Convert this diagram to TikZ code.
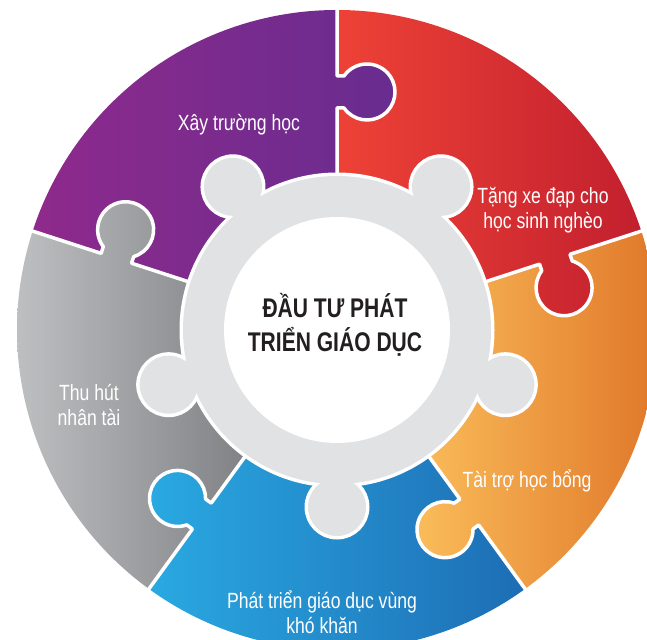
\documentclass[tikz,border=0pt]{standalone}
\usepackage{fontspec}
\setmainfont{Liberation Sans}
\newfontfamily\labfont[FakeStretch=0.8]{Liberation Sans}
\newfontfamily\ttlfont[FakeStretch=0.78]{Liberation Sans}
\definecolor{pL}{HTML}{8F2A8C}
\definecolor{pR}{HTML}{682C8F}
\definecolor{rL}{HTML}{EE4237}
\definecolor{rR}{HTML}{C01E2E}
\definecolor{oL}{HTML}{FABD5A}
\definecolor{oR}{HTML}{E0782A}
\definecolor{bL}{HTML}{2AAAE2}
\definecolor{bR}{HTML}{1D6DB4}
\definecolor{gL}{HTML}{BEBFC1}
\definecolor{gR}{HTML}{7F8083}
\definecolor{ringgray}{HTML}{E1E2E4}
\definecolor{ink}{HTML}{231F20}
\tikzset{
  labeltext/.style={text=white, font=\labfont\fontsize{22}{25}\selectfont, align=center, anchor=base, inner sep=0pt},
  titletext/.style={text=ink, font=\ttlfont\bfseries\fontsize{27}{34}\selectfont, align=center, anchor=base, inner sep=0pt},
  gapline/.style={white, line width=3.5pt, line join=round},
  knobedge/.style={white, line width=7pt},
}
\begin{document}
\begin{tikzpicture}[x=1pt,y=1pt]
\useasboundingbox (0,0) rectangle (647,639);
\begin{scope}[shift={(337,309)}]
  % puzzle pieces
  \foreach \a/\cl/\cr/\xl/\xr in {90/pL/pR/-310/60, 18/rL/rR/0/320, -54/oL/oR/78/320, 234/bL/bR/-195/190, 162/gL/gR/-320/-85}{
    \begin{scope}
      \clip (0,0) -- (\a:320) arc[start angle=\a, delta angle=72, radius=320] -- cycle;
      \shade[left color=\cl, right color=\cr] (\xl,-330) rectangle (\xr,330);
    \end{scope}
  }
  % tabs
  \foreach \a/\u/\cl/\cr/\xl/\xr in {90/238/pL/pR/-310/60, 18/229/rL/rR/0/320, -54/225/oL/oR/78/320, 234/230/bL/bR/-195/190, 162/232/gL/gR/-320/-85}{
    \begin{scope}
      \clip[rotate=\a] (\u-16,1) -- (\u-16,-7.02) arc[start angle=124.85, end angle=415.15, radius=28] -- (\u+16,1) -- cycle;
      \shade[left color=\cl, right color=\cr] (\xl,-330) rectangle (\xr,330);
    \end{scope}
  }
  % white gaps with tab outlines
  \foreach \a/\u in {90/238, 18/229, -54/225, 234/230, 162/232}{
    \draw[gapline, rotate=\a] (120,0) -- (\u-16,0) -- (\u-16,-7.02) arc[start angle=124.85, end angle=415.15, radius=28] -- (\u+16,0) -- (330,0);
  }
  % central ring with knobs
  \foreach \k in {-90,-18,54,126,198} \draw[knobedge] (\k:177) circle (29);
  \draw[knobedge] (0,0) circle (154);
  \fill[ringgray] (0,0) circle (154);
  \foreach \k in {-90,-18,54,126,198} \fill[ringgray] (\k:177) circle (29);
  \fill[white] (0,0) circle (113);
\end{scope}
\node[labeltext] (t1) at (239,508) {Xây trường học};
\node[labeltext] (t2) at (543,410) {Tặng xe đạp cho\\học sinh nghèo};
\node[labeltext] (t3) at (89,213) {Thu hút\\nhân tài};
\node[labeltext] (t4) at (527,151) {Tài trợ học bổng};
\node[labeltext] (t5) at (322,5.5) {Phát triển giáo dục vùng\\khó khăn};
\node[titletext] (c) at (335,287) {ĐẦU TƯ PHÁT\\TRIỂN GIÁO DỤC};
\end{tikzpicture}
\end{document}
